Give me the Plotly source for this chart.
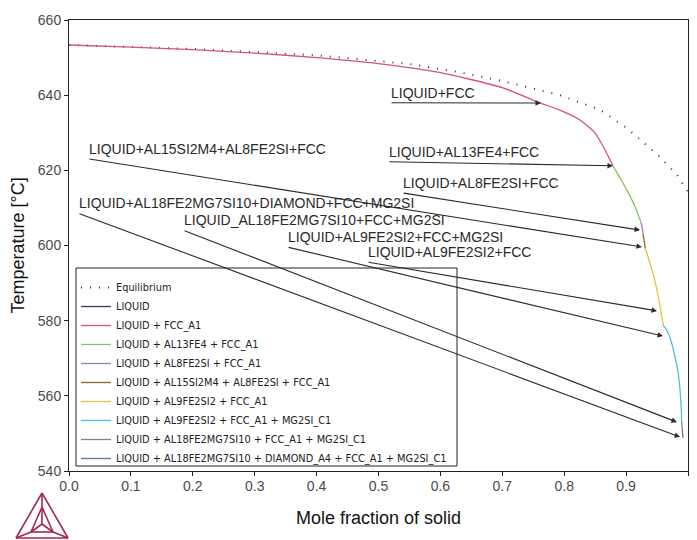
import plotly.graph_objects as go

# ---- Scheil solidification path, one segment per phase region ----
fs_liquid = [0.0, 0.0]
t_liquid = [653.35, 653.35]

fs_fcc = [0.0, 0.1, 0.2, 0.3, 0.4, 0.5, 0.6, 0.7, 0.76, 0.793, 0.8255, 0.85, 0.866, 0.8788]
t_fcc = [653.35, 652.8, 652.1, 651.2, 650.0, 648.4, 646.0, 642.0, 638.0, 636.0, 633.4, 629.9, 625.4, 621.2]

fs_al13fe4 = [0.8788, 0.892, 0.903, 0.914, 0.9245]
t_al13fe4 = [621.2, 617.5, 614.2, 610.5, 606.0]

fs_al8fe2si = [0.9245, 0.9275]
t_al8fe2si = [606.0, 603.0]

fs_al15si2m4 = [0.9275, 0.931]
t_al15si2m4 = [603.0, 599.2]

fs_al9fe2si2 = [0.931, 0.9386, 0.946, 0.952, 0.960]
t_al9fe2si2 = [599.2, 595.3, 591.0, 586.4, 578.8]

fs_mg2si = [0.960, 0.9656, 0.9737, 0.979, 0.9843, 0.9871, 0.9892, 0.9898]
t_mg2si = [578.8, 577.5, 574.0, 570.4, 566.0, 561.6, 556.2, 553.1]

fs_al18 = [0.9898, 0.9908]
t_al18 = [553.1, 550.9]

fs_diamond = [0.9908, 0.9919]
t_diamond = [550.9, 548.8]

# ---- Equilibrium (lever rule) path ----
fs_eq = [0.0, 0.2, 0.4, 0.55, 0.627, 0.7, 0.793, 0.858, 0.901, 0.955, 0.982, 1.0]
t_eq = [653.35, 652.3, 650.6, 648.3, 646.2, 643.8, 640.0, 636.1, 631.3, 623.5, 618.8, 614.2]

# ---- phase-region labels: text, label anchor (fs, T), arrow target (fs, T) ----
label_text = [
    "LIQUID+FCC",
    "LIQUID+AL13FE4+FCC",
    "LIQUID+AL15SI2M4+AL8FE2SI+FCC",
    "LIQUID+AL8FE2SI+FCC",
    "LIQUID+AL18FE2MG7SI10+DIAMOND+FCC+MG2SI",
    "LIQUID_AL18FE2MG7SI10+FCC+MG2SI",
    "LIQUID+AL9FE2SI2+FCC+MG2SI",
    "LIQUID+AL9FE2SI2+FCC",
]
label_fs = [0.5186, 0.5153, 0.0307, 0.538, 0.0145, 0.1842, 0.3522, 0.4814]
label_t = [638.0, 622.3, 623.1, 614.0, 608.6, 604.1, 599.6, 595.6]
target_fs = [0.7625, 0.8788, 0.9257, 0.9225, 0.9871, 0.9822, 0.9596, 0.950]
target_t = [637.9, 621.2, 599.6, 604.1, 549.05, 553.0, 575.9, 582.6]

segments = [
    ("LIQUID", fs_liquid, t_liquid, "#2b3a67"),
    ("LIQUID + FCC_A1", fs_fcc, t_fcc, "#d9546e"),
    ("LIQUID + AL13FE4 + FCC_A1", fs_al13fe4, t_al13fe4, "#8cc063"),
    ("LIQUID + AL8FE2SI + FCC_A1", fs_al8fe2si, t_al8fe2si, "#9b7fb0"),
    ("LIQUID + AL15SI2M4 + AL8FE2SI + FCC_A1", fs_al15si2m4, t_al15si2m4, "#8b6d2f"),
    ("LIQUID + AL9FE2SI2 + FCC_A1", fs_al9fe2si2, t_al9fe2si2, "#e8c040"),
    ("LIQUID + AL9FE2SI2 + FCC_A1 + MG2SI_C1", fs_mg2si, t_mg2si, "#4fc0dc"),
    ("LIQUID + AL18FE2MG7SI10 + FCC_A1 + MG2SI_C1", fs_al18, t_al18, "#8a8178"),
    ("LIQUID + AL18FE2MG7SI10 + DIAMOND_A4 + FCC_A1 + MG2SI_C1", fs_diamond, t_diamond, "#5877a8"),
]

fig = go.Figure()

fig.add_trace(go.Scatter(
    x=fs_eq, y=t_eq, mode="lines", name="Equilibrium",
    line=dict(color="#333333", width=2, dash="1px,8px"),
))
for name, xs, ys, col in segments:
    fig.add_trace(go.Scatter(
        x=xs, y=ys, mode="lines", name=name,
        line=dict(color=col, width=1.3, shape="spline", smoothing=0.6),
    ))

annotations = []
for txt, lx, ly, hx, hy in zip(label_text, label_fs, label_t, target_fs, target_t):
    annotations.append(dict(
        x=hx, y=hy, ax=lx, ay=ly, xref="x", yref="y", axref="x", ayref="y",
        text="", showarrow=True, arrowhead=2, arrowsize=1, arrowwidth=1.1,
        arrowcolor="#2a2a2a", standoff=0, startstandoff=0,
    ))
    annotations.append(dict(
        x=lx, y=ly, xref="x", yref="y", text=txt, showarrow=False,
        xanchor="left", yanchor="bottom", xshift=-1, yshift=0,
        font=dict(family="Arial", size=14, color="#2a2a2a"),
    ))

# Thermo-Calc style triangle mark in the lower-left corner (paper coordinates)
def px_to_paper(px, py):
    return (px - 69) / 619, (471 - py) / 451

outer = [(42, 493), (16, 538), (68, 538)]
inner = [(42, 507), (31, 532), (53, 532)]
centre = (42, 524)
logo_col = "#a3284f"
shapes = []

def seg(p, q):
    x0, y0 = px_to_paper(*p)
    x1, y1 = px_to_paper(*q)
    shapes.append(dict(type="line", xref="paper", yref="paper",
                       x0=x0, y0=y0, x1=x1, y1=y1,
                       line=dict(color=logo_col, width=1.6)))

for i in range(3):
    seg(outer[i], outer[(i + 1) % 3])
    seg(inner[i], inner[(i + 1) % 3])
    seg(outer[i], inner[i])
    seg(inner[i], centre)

# legend frame
lx0, ly0 = px_to_paper(76, 466)
lx1, ly1 = px_to_paper(457, 268)
shapes.append(dict(type="rect", xref="paper", yref="paper",
                   x0=lx0, y0=ly0, x1=lx1, y1=ly1, layer="above",
                   fillcolor="white", line=dict(color="#222222", width=1)))

axis_common = dict(
    showgrid=False, zeroline=False, showline=True, linecolor="#222222",
    linewidth=1, mirror=True, ticks="outside", ticklen=4, tickcolor="#222222",
    tickfont=dict(family="Arial", size=14, color="#4a4a4a"),
)

fig.update_layout(
    width=697, height=540,
    margin=dict(l=69, r=9, t=20, b=69),
    paper_bgcolor="white", plot_bgcolor="white",
    xaxis=dict(range=[0, 1], dtick=0.1, tickformat=".1f", ticklabelstandoff=-2,
               title=dict(text="Mole fraction of solid", standoff=18,
                          font=dict(family="Arial", size=18, color="#111111")),
               **axis_common),
    yaxis=dict(range=[540, 660], dtick=20,
               title=dict(text="Temperature [°C]", standoff=8,
                          font=dict(family="Arial", size=18, color="#111111")),
               **axis_common),
    showlegend=True,
    legend=dict(x=(76 - 69) / 619, y=(471 - 273) / 451, xanchor="left", yanchor="top",
                bgcolor="rgba(0,0,0,0)", borderwidth=0,
                font=dict(family="DejaVu Sans", size=9.8, color="#222222"),
                tracegroupgap=0),
    annotations=annotations,
    shapes=shapes,
)

fig.write_html("out.html")
